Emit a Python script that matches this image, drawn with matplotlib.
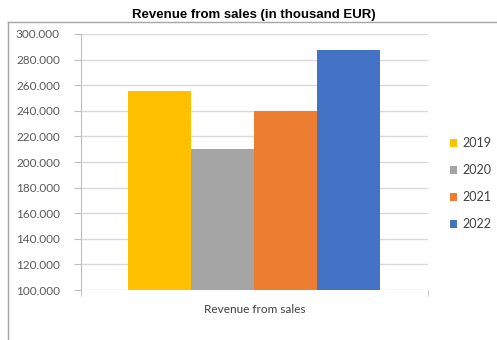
import matplotlib.pyplot as plt
import numpy as np
from matplotlib.lines import Line2D
from matplotlib.ticker import FuncFormatter

years = ['2019', '2020', '2021', '2022']
revenue = [255500, 210000, 240000, 287500]
colors = ['#ffc000', '#a5a5a5', '#ed7d31', '#4472c4']
category = 'Revenue from sales'
title = 'Revenue from sales (in thousand EUR)'

plt.rcParams['font.family'] = ['Lato', 'DejaVu Sans']

fig = plt.figure(figsize=(4.97, 3.4), dpi=100)
ax = fig.add_axes([0.1624, 0.147, 0.6986, 0.753])

w = 0.1815
offsets = (np.arange(len(years)) - (len(years) - 1) / 2) * w
for off, val, c, yr in zip(offsets, revenue, colors, years):
    ax.bar(off, val, width=w, color=c, label=yr, zorder=3)

ax.set_xlim(-0.5, 0.5)
ax.set_ylim(100000, 300000)
ax.set_yticks(np.arange(100000, 300001, 20000))
ax.yaxis.set_major_formatter(FuncFormatter(lambda v, p: f'{v:,.0f}'.replace(',', '.')))
ax.set_xticks([0])
ax.set_xticklabels([category])
ax.set_xticks([-0.5, 0.5], minor=True)

ax.grid(axis='y', color='#d9d9d9', linewidth=1, zorder=0)
for s in ['top', 'right', 'bottom']:
    ax.spines[s].set_visible(False)
ax.spines['left'].set_color('#bfbfbf')
ax.tick_params(axis='y', length=5, color='#bfbfbf', labelsize=8.5,
               labelcolor='#595959', pad=10)
ax.tick_params(axis='x', which='major', length=0, labelsize=8.5,
               labelcolor='#404040', pad=10)
ax.tick_params(axis='x', which='minor', length=4, color='#bfbfbf')

ax.legend(loc='center left', bbox_to_anchor=(1.03, 0.415), frameon=False,
          handlelength=0.6, handleheight=0.6, handletextpad=0.4,
          labelspacing=1.2, fontsize=9, labelcolor='#404040')

# chart frame (top and left edges)
fig.add_artist(Line2D([8 / 497, 1], [1 - 22 / 340] * 2, color='#a6a6a6', lw=1))
fig.add_artist(Line2D([8 / 497] * 2, [0, 1 - 22 / 340], color='#a6a6a6', lw=1))

fig.text(254 / 497, 1 - 15 / 340, title, ha='center', va='center',
         fontsize=9.5, fontweight='bold', family=['Liberation Sans', 'DejaVu Sans'])

fig.savefig('out.png', dpi=100)
